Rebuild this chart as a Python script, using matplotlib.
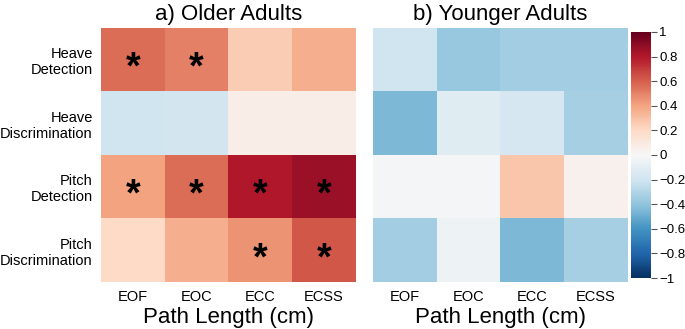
import numpy as np
import matplotlib
matplotlib.use("Agg")
import matplotlib.pyplot as plt

plt.rcParams['font.family'] = ['Liberation Sans', 'DejaVu Sans']

# data
conditions = ["Heave\nDetection", "Heave\nDiscrimination", "Pitch\nDetection", "Pitch\nDiscrimination"]
path_lengths = ["EOF", "EOC", "ECC", "ECSS"]

older = [[0.56, 0.50, 0.25, 0.36],
         [-0.20, -0.18, 0.07, 0.07],
         [0.40, 0.56, 0.80, 0.86],
         [0.20, 0.36, 0.45, 0.62]]
younger = [[-0.20, -0.38, -0.35, -0.35],
           [-0.45, -0.12, -0.17, -0.33],
           [-0.02, -0.02, 0.28, 0.04],
           [-0.35, -0.05, -0.45, -0.33]]
older_sig = [[1, 1, 0, 0],
             [0, 0, 0, 0],
             [1, 1, 1, 1],
             [0, 0, 1, 1]]
younger_sig = [[0, 0, 0, 0],
               [0, 0, 0, 0],
               [0, 0, 0, 0],
               [0, 0, 0, 0]]
cbar_ticks = [1, 0.8, 0.6, 0.4, 0.2, 0, -0.2, -0.4, -0.6, -0.8, -1]

fig = plt.figure(figsize=(6.85, 3.29), dpi=100)
ax_a = fig.add_axes([0.1474, 0.143, 0.372, 0.772])
ax_b = fig.add_axes([0.5445, 0.143, 0.372, 0.772])
cax = fig.add_axes([0.921, 0.155, 0.029, 0.748])

def draw(ax, vals, sig, title, show_y):
    m = ax.imshow(np.array(vals), cmap="RdBu_r", vmin=-1, vmax=1, aspect="auto")
    for i in range(len(conditions)):
        for j in range(len(path_lengths)):
            if sig[i][j]:
                ax.text(j, i + 0.14, "*", ha="center", va="center", fontsize=27,
                        fontweight="bold", color="black")
    ax.set_xticks(range(len(path_lengths)))
    ax.set_xticklabels(path_lengths, fontsize=10.5)
    ax.set_yticks(range(len(conditions)))
    if show_y:
        ax.set_yticklabels(conditions, fontsize=10.5, ha="right")
    else:
        ax.set_yticklabels([])
    ax.tick_params(length=0, pad=6)
    for s in ax.spines.values():
        s.set_visible(False)
    ax.set_title(title, fontsize=16, pad=6)
    ax.set_xlabel("Path Length (cm)", fontsize=16, labelpad=2)
    return m

m = draw(ax_a, older, older_sig, "a) Older Adults", True)
draw(ax_b, younger, younger_sig, "b) Younger Adults", False)

cb = fig.colorbar(m, cax=cax, ticks=cbar_ticks)
cb.outline.set_visible(False)
cb.ax.tick_params(labelsize=9.5, length=4, width=0.8, color="#555555", pad=2)
cb.ax.set_yticklabels(["%g" % t if t >= 0 else "\u2212%g" % -t for t in cbar_ticks])

fig.savefig("out.png", dpi=100)
